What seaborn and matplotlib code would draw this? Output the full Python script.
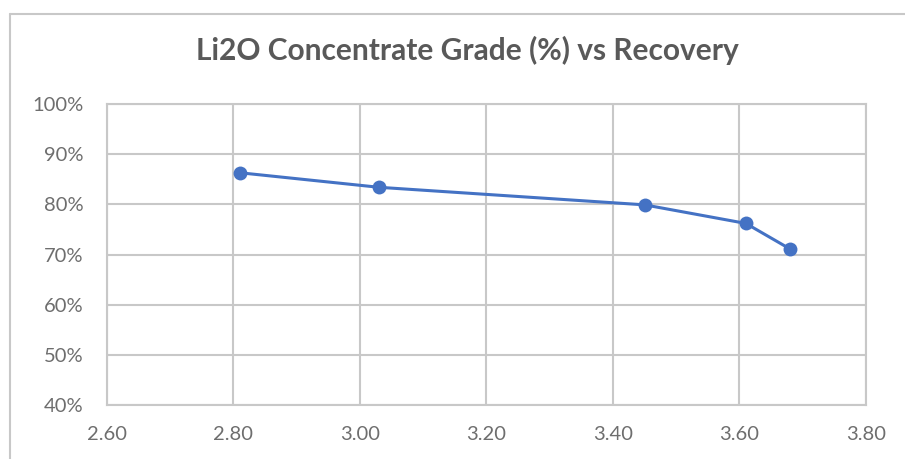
import matplotlib
matplotlib.use('Agg')
import matplotlib.pyplot as plt
from matplotlib.ticker import PercentFormatter, FormatStrFormatter
import pandas as pd
import seaborn as sns

# grade (% Li2O) vs recovery
grade = [2.81, 3.03, 3.45, 3.61, 3.68]
recovery = [86.3, 83.4, 79.9, 76.2, 71.1]

sns.set_style('white')
plt.rcParams['font.family'] = ['Lato', 'DejaVu Sans']

data = pd.DataFrame({'grade': grade, 'recovery': recovery})

figure = plt.figure(figsize=(9.05, 4.59), dpi=100)
axes = figure.add_axes([0.1182, 0.1176, 0.8387, 0.6558])

sns.lineplot(data=data, x='grade', y='recovery', ax=axes, color='#4472C4',
             linewidth=2.2, marker='o', markersize=10, markeredgewidth=0)

axes.set_xlim(2.6, 3.8)
axes.set_ylim(40, 100)
axes.set_xticks([2.6, 2.8, 3.0, 3.2, 3.4, 3.6, 3.8])
axes.set_yticks(range(40, 101, 10))
axes.xaxis.set_major_formatter(FormatStrFormatter('%.2f'))
axes.yaxis.set_major_formatter(PercentFormatter(decimals=0))
axes.set(xlabel='', ylabel='')
axes.grid(True, color='#C8C8C8', linewidth=1.5)
for spine in axes.spines.values():
    spine.set_color('#C8C8C8')
    spine.set_linewidth(1.5)
axes.tick_params(length=0, labelsize=14.5, labelcolor='#6E6E6E')
axes.tick_params(axis='y', pad=17)
axes.tick_params(axis='x', pad=15)

figure.text(0.516, 0.891, 'Li2O Concentrate Grade (%) vs Recovery',
            ha='center', va='center', fontsize=21.5, fontweight='bold',
            color='#595959')

# chart frame (top and left edges)
figure.add_artist(plt.Line2D([0.0105, 1.0], [0.97, 0.97], color='#C8C8C8',
                             linewidth=1.5, transform=figure.transFigure))
figure.add_artist(plt.Line2D([0.0105, 0.0105], [0.0, 0.97], color='#C8C8C8',
                             linewidth=1.5, transform=figure.transFigure))

figure.savefig('out.png', dpi=100)
